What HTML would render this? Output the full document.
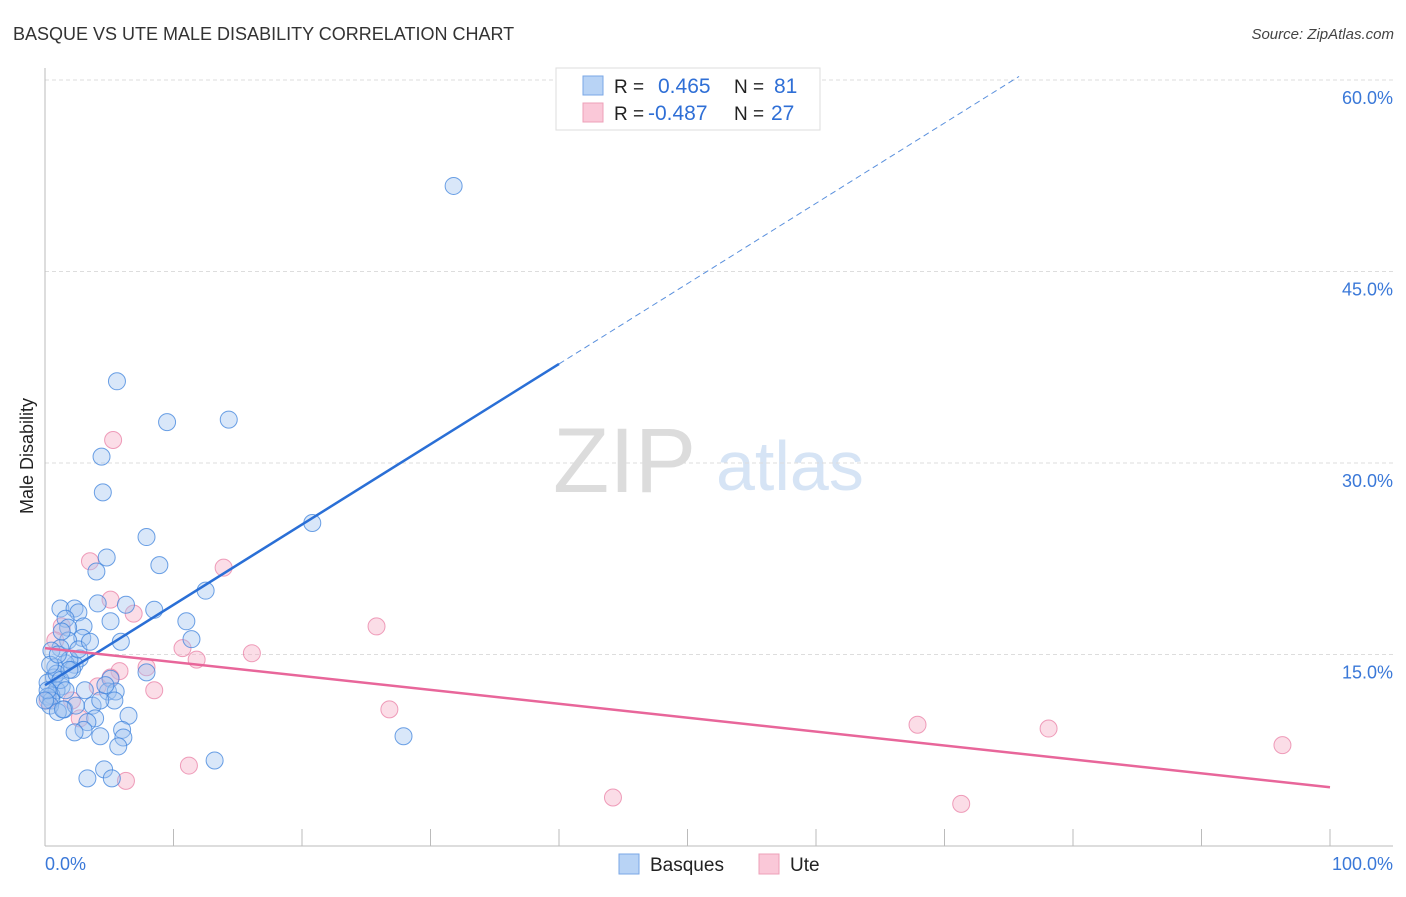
<!DOCTYPE html>
<html><head><meta charset="utf-8"><style>
body{margin:0;background:#fff;font-family:"Liberation Sans",sans-serif}
svg text{font-family:"Liberation Sans",sans-serif}
</style></head><body>
<svg id="chart" width="1406" height="892" xmlns="http://www.w3.org/2000/svg">
<text x="13" y="40" font-size="18" fill="#333">BASQUE VS UTE MALE DISABILITY CORRELATION CHART</text>
<text x="1394" y="39" font-size="15" fill="#444" font-style="italic" text-anchor="end">Source: ZipAtlas.com</text>
<g>
<text x="553" y="492" font-size="92" font-family="Liberation Serif,serif" fill="#dcdcdc">ZIP</text>
<text x="716" y="490" font-size="70" fill="#d6e4f5">atlas</text>
</g>
<text transform="translate(33,456) rotate(-90)" font-size="18" fill="#222" text-anchor="middle">Male Disability</text>
<g id="grid"></g><g id="axes"></g><g id="marks"></g>
<g>
<rect x="556" y="68" width="264" height="62" fill="#fff" stroke="#ddd"/>
<rect x="583" y="76" width="20" height="19" fill="#b8d3f5" stroke="#7aa7e6"/>
<rect x="583" y="103" width="20" height="19" fill="#fac8d8" stroke="#eea0b8"/>
<text x="614" y="93" font-size="19" fill="#222">R =</text><text x="658" y="93" font-size="21" fill="#2f6fd6">0.465</text>
<text x="734" y="93" font-size="19" fill="#222">N =</text><text x="774" y="93" font-size="21" fill="#2f6fd6">81</text>
<text x="614" y="120" font-size="19" fill="#222">R =</text><text x="648" y="120" font-size="21" fill="#2f6fd6">-0.487</text>
<text x="734" y="120" font-size="19" fill="#222">N =</text><text x="771" y="120" font-size="21" fill="#2f6fd6">27</text>
</g>
<g>
<rect x="619" y="854" width="20" height="20" fill="#b8d3f5" stroke="#7aa7e6"/>
<text x="650" y="871" font-size="19" fill="#222">Basques</text>
<rect x="759" y="854" width="20" height="20" fill="#fac8d8" stroke="#eea0b8"/>
<text x="790" y="871" font-size="19" fill="#222">Ute</text>
</g>
</svg>
<script>
const yTicks=[15,30,45,60];
const yTickLabels=["15.0%","30.0%","45.0%","60.0%"];
const xEndLabels=["0.0%","100.0%"];
const basqueX=[31.8,5.6,9.5,14.3,4.4,4.5,7.9,20.8,4.8,8.9,4.0,12.5,4.1,6.3,8.5,1.2,2.3,2.6,1.6,11.0,5.1,3.0,1.8,5.9,11.4,2.9,1.8,1.2,0.5,2.7,2.3,1.6,0.8,2.1,7.9,0.7,5.1,0.2,1.3,0.9,0.5,4.9,5.5,5.4,0.2,0.5,1.5,3.7,2.4,3.9,6.5,3.3,3.0,2.3,6.0,6.1,4.3,5.7,27.9,13.2,4.6,3.3,5.2,0.4,1.0,0.9,1.9,1.3,0.4,1.2,0.2,3.1,4.3,1.6,2.6,1.9,3.5,1.0,0.0,1.4,4.7];
const basqueY=[51.7,36.4,33.2,33.4,30.5,27.7,24.2,25.3,22.6,22.0,21.5,20.0,19.0,18.9,18.5,18.6,18.6,18.3,17.8,17.6,17.6,17.2,17.1,16.0,16.2,16.3,16.1,15.5,15.3,14.7,14.2,14.3,14.0,13.8,13.6,13.2,13.1,12.8,12.5,12.2,11.8,12.1,12.1,11.4,11.7,11.4,10.7,11.0,11.0,10.0,10.2,9.7,9.1,8.9,9.1,8.5,8.6,7.8,8.6,6.7,6.0,5.3,5.3,11.0,10.5,13.5,14.6,16.8,14.2,13.0,12.2,12.2,11.4,12.2,15.4,13.8,16.0,15.0,11.4,10.7,12.6];
const uteX=[5.3,3.5,13.9,6.9,25.8,1.3,0.8,10.7,16.1,11.8,7.9,5.8,5.1,4.1,8.5,2.7,26.8,67.9,78.1,96.3,11.2,6.3,44.2,71.3,0.2,2.1,5.1];
const uteY=[31.8,22.3,21.8,18.2,17.2,17.2,16.1,15.5,15.1,14.6,14.0,13.7,13.2,12.5,12.2,10.0,10.7,9.5,9.2,7.9,6.3,5.1,3.8,3.3,11.4,11.4,19.3];
const basqueTrend=[12.6,0.629];
const uteTrend=[15.5,-0.109];
const NS="http://www.w3.org/2000/svg";
const X0=45,X1=1330,Y0=846,PX_PER=12.767;
const sx=v=>X0+(X1-X0)*v/100, sy=v=>Y0-v*PX_PER;
function mk(tag,attrs,parent){const e=document.createElementNS(NS,tag);for(const k in attrs)e.setAttribute(k,attrs[k]);document.getElementById(parent).appendChild(e);return e;}
yTicks.forEach((t,i)=>{
 const l=mk('line',{x1:45,x2:1393,y1:sy(t),y2:sy(t),stroke:'#ddd','stroke-dasharray':'4,3'},'grid');
 
 
 const tx=mk('text',{x:1393,y:sy(t)+24,'font-size':18,fill:'#3a78d8','text-anchor':'end'},'grid');tx.textContent=yTickLabels[i];
 
 
});
const ya=mk('line',{x1:45,x2:45,y1:68,y2:846,stroke:'#bbb'},'axes');


const xa=mk('line',{x1:45,x2:1393,y1:846,y2:846,stroke:'#bbb'},'axes');


for(let i=0;i<=10;i++){const t=mk('line',{x1:sx(i*10),x2:sx(i*10),y1:829,y2:846,stroke:'#bbb'},'axes');
 
 }
[[0,'start',45],[100,'end',1393]].forEach((d,i)=>{const t=mk('text',{x:d[2],y:870,'font-size':18,fill:'#3a78d8','text-anchor':d[1]},'axes');t.textContent=xEndLabels[i];
 
 });
uteX.forEach((x,i)=>{const c=mk('circle',{cx:sx(x),cy:sy(uteY[i]),r:8.5,fill:'rgba(246,170,196,0.4)',stroke:'rgba(232,120,160,0.7)','stroke-width':1},'marks');
 
 });
basqueX.forEach((x,i)=>{const c=mk('circle',{cx:sx(x),cy:sy(basqueY[i]),r:8.5,fill:'rgba(160,196,240,0.4)',stroke:'rgba(60,130,220,0.75)','stroke-width':1},'marks');
 
 });
const bf=x=>basqueTrend[0]+basqueTrend[1]*x, uf=x=>uteTrend[0]+uteTrend[1]*x;
const b1=mk('line',{x1:sx(0),y1:sy(bf(0)),x2:sx(40),y2:sy(bf(40)),stroke:'#2a6fd6','stroke-width':2.5},'marks');


const b2=mk('line',{x1:sx(40),y1:sy(bf(40)),x2:sx(75.8),y2:sy(bf(75.8)),stroke:'#5a90dd','stroke-width':1,'stroke-dasharray':'6,4'},'marks');


const u1=mk('line',{x1:sx(0),y1:sy(uf(0)),x2:sx(100),y2:sy(uf(100)),stroke:'#e8669a','stroke-width':2.5},'marks');


</script>
</body></html>
